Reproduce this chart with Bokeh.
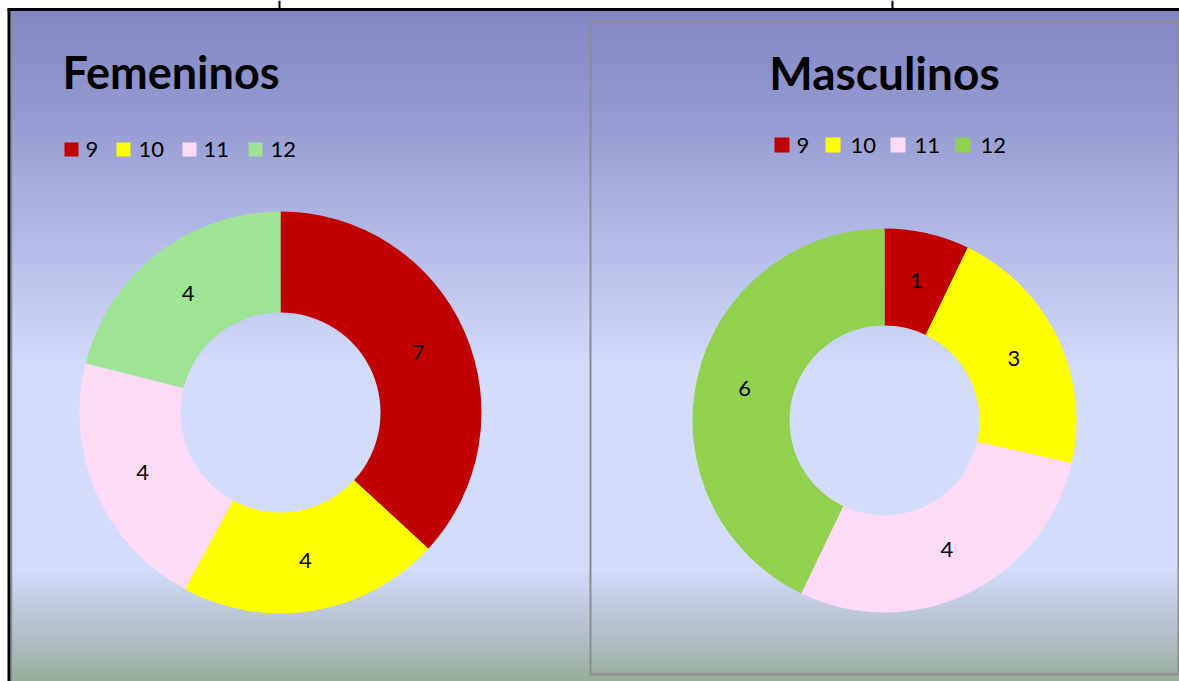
import numpy as np
from bokeh.plotting import figure
from bokeh.models import Range1d, ColumnDataSource
from bokeh.core.properties import value
from bokeh.embed import file_html
from bokeh.resources import INLINE

# ---------------- data ----------------
categories = ["9", "10", "11", "12"]
fem_values = [7, 4, 4, 4]
masc_values = [1, 3, 4, 6]
fem_colors = ["#C00000", "#FFFF00", "#FDDAF6", "#9FE395"]
masc_colors = ["#C00000", "#FFFF00", "#FDDAF6", "#92D050"]
fem_title = "Femeninos"
masc_title = "Masculinos"

W, H = 1179, 681


def Y(y):
    return H - y


p = figure(width=W, height=H, x_range=Range1d(0, W), y_range=Range1d(0, H),
           output_backend="svg", toolbar_location=None, min_border=0)
p.axis.visible = False
p.grid.visible = False
p.outline_line_color = None
p.background_fill_color = "white"
p.border_fill_color = "white"

# ---------------- background gradient ----------------
stops_y = [9, 100, 180, 280, 372, 570, 600, 640, 681]
stops_c = ["#8387c3", "#9197cf", "#a5abdc", "#bec5ee", "#d3ddfb", "#d3ddfb", "#c2cde2", "#b0bfc4", "#97ad97"]


def hex2rgb(h):
    h = h.lstrip("#")
    return [int(h[i:i + 2], 16) for i in (0, 2, 4)]


rgb = np.array([hex2rgb(c) for c in stops_c], dtype=float)
ys = np.arange(9, 682, 2)
cols = []
for yy in ys:
    r = np.interp(yy + 1, stops_y, rgb[:, 0])
    g = np.interp(yy + 1, stops_y, rgb[:, 1])
    b = np.interp(yy + 1, stops_y, rgb[:, 2])
    cols.append("#%02x%02x%02x" % (int(r), int(g), int(b)))
p.quad(left=9, right=W, top=[Y(v) for v in ys], bottom=[Y(v + 3) for v in ys],
       fill_color=cols, line_color=None)

# frame lines
p.line([8.5, 8.5], [Y(8), Y(690)], line_color="black", line_width=3)
p.line([7, W], [Y(9), Y(9)], line_color="black", line_width=3)
p.line([11, 11], [Y(11), Y(690)], line_color="#8a8a9a", line_width=1.5)
p.line([279, 279], [Y(0), Y(9)], line_color="black", line_width=2)
p.line([892, 892], [Y(0), Y(9)], line_color="black", line_width=2)
# Masculinos panel border
p.quad(left=590, right=1178, top=Y(21), bottom=Y(674), fill_color=None,
       line_color="#8c8c8c", line_width=2)


def donut(values, colors, cx, cy, r_in, r_out):
    vals = np.array(values, dtype=float)
    tot = vals.sum()
    cum = np.concatenate([[0], np.cumsum(vals)])
    start = np.pi / 2 - 2 * np.pi * cum[:-1] / tot
    end = np.pi / 2 - 2 * np.pi * cum[1:] / tot
    src = ColumnDataSource(dict(start=start, end=end, color=colors))
    p.annular_wedge(x=cx, y=Y(cy), inner_radius=r_in, outer_radius=r_out,
                    start_angle="start", end_angle="end", direction="clock",
                    fill_color="color", line_color=None, source=src)
    mid = (start + end) / 2
    rm = (r_in + r_out) / 2
    lx = cx + rm * np.cos(mid)
    ly = Y(cy) + rm * np.sin(mid)
    p.text(x=lx, y=ly, text=[str(v) for v in values], text_align="center",
           text_baseline="middle", text_font=value("Lato"), text_font_size="22px",
           text_color="black")


donut(fem_values, fem_colors, 280, 412, 100, 201)
donut(masc_values, masc_colors, 884, 420, 95, 192)

# titles
p.text(x=[62], y=[Y(71)], text=[fem_title], text_align="left", text_baseline="alphabetic",
       text_font=value("Lato"), text_font_style="bold", text_font_size="45px", text_color="black")
p.text(x=[884], y=[Y(72)], text=[masc_title], text_align="center", text_baseline="alphabetic",
       text_font=value("Lato"), text_font_style="bold", text_font_size="46px", text_color="black")


def legend(colors, sq_x, txt_x, sq_top, sq_size, base):
    p.quad(left=sq_x, right=[x + sq_size for x in sq_x], top=Y(sq_top), bottom=Y(sq_top + sq_size),
           fill_color=colors, line_color=None)
    p.text(x=txt_x, y=[Y(base)] * len(txt_x), text=categories, text_align="left",
           text_baseline="alphabetic", text_font=value("Lato"), text_font_size="22px",
           text_color="black")


legend(fem_colors, [64, 116, 182, 248], [85, 138, 203, 270], 142, 14, 149)
legend(masc_colors, [774, 825, 890, 955], [796, 850, 914, 980], 137, 15, 145)

open("out.html", "w").write(file_html(p, INLINE))
